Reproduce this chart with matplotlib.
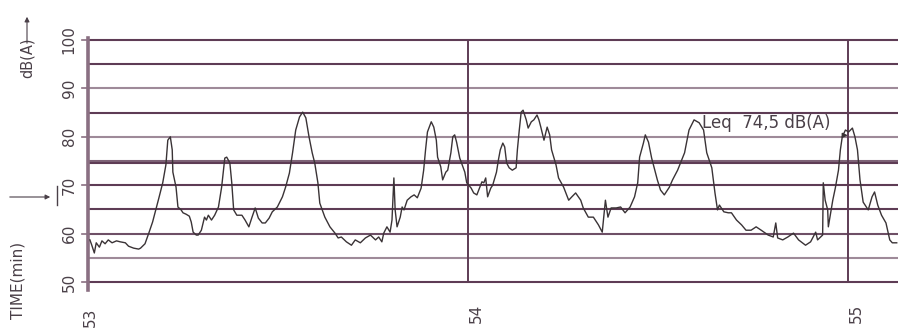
import matplotlib
matplotlib.use("Agg")
import matplotlib.pyplot as plt
import numpy as np

# ---- data: seconds after 53:00 and sound level dB(A) ----
time_s = [0.3, 0.6, 1.0, 1.3, 1.8, 2.2, 2.7, 3.2, 3.8, 4.5, 5.1, 5.9, 6.4, 7.2, 8.0, 8.3, 9.0,
          9.6, 10.2, 10.7, 11.2, 11.8, 12.3, 12.6, 13.0, 13.3, 13.4, 13.9, 14.2, 14.7, 15.0, 15.5,
          16.0, 16.3, 16.6, 17.1, 17.4, 17.9, 18.4, 18.7, 19.0, 19.5, 20.0, 20.6, 21.1, 21.6, 21.9,
          22.4, 22.7, 23.0, 23.5, 24.3, 24.8, 25.4, 25.9, 26.4, 26.9, 27.5, 28.0, 28.6, 29.1, 29.9,
          30.7, 31.2, 31.8, 32.3, 32.8, 33.4, 33.9, 34.4, 34.9, 35.4, 35.8, 36.3, 36.6, 37.4, 38.2,
          39.0, 39.5, 40.0, 40.8, 41.6, 42.2, 43.0, 43.8, 44.6, 45.4, 45.9, 46.4, 46.7, 47.2, 47.7,
          48.0, 48.3, 48.5, 48.8, 49.3, 49.6, 49.9, 50.4, 51.0, 51.5, 52.0, 52.6, 53.0, 53.3, 53.6,
          54.2, 54.6, 55.0, 55.2, 55.7, 56.0, 56.5, 56.8, 57.3, 57.6, 57.9, 58.2, 58.7, 59.2, 59.5,
          59.8, 60.5, 60.9, 61.4, 61.7, 62.2, 62.5, 62.8, 63.1, 63.6, 63.9, 64.5, 64.8, 65.1, 65.5,
          65.8, 66.1, 66.5, 67.0, 67.6, 67.8, 68.1, 68.4, 68.7, 69.2, 69.5, 70.0, 70.4, 70.9, 71.2,
          71.5, 72.0, 72.5, 72.9, 73.2, 73.9, 74.3, 75.1, 75.9, 76.4, 77.0, 77.8, 78.2, 79.0, 79.8,
          80.6, 81.2, 81.7, 82.1, 82.6, 83.4, 84.1, 84.8, 85.6, 86.3, 86.8, 87.1, 87.7, 88.0, 88.5,
          89.0, 89.4, 89.9, 90.4, 91.0, 91.8, 92.3, 93.1, 94.2, 94.9, 95.7, 96.5, 97.2, 97.7, 98.5,
          99.0, 99.4, 99.7, 100.4, 101.1, 101.6, 102.4, 103.2, 103.9, 104.7, 105.5, 106.3, 107.4,
          108.2, 108.6, 108.9, 109.7, 110.5, 111.4, 112.2, 113.3, 114.1, 114.9, 115.2, 116.0, 116.1,
          116.4, 116.8, 116.9, 117.6, 118.0, 118.5, 118.8, 119.1, 119.6, 120.1, 120.7, 121.1, 121.5,
          121.9, 122.4, 123.2, 123.8, 124.2, 124.7, 125.3, 126.0, 126.6, 127.0, 127.7]

level_db = [58.7, 57.6, 56.0, 58.1, 57.2, 58.5, 57.9, 58.7, 58.1, 58.5, 58.3, 58.1, 57.4, 57.0,
            56.8, 57.0, 57.9, 60.1, 62.4, 64.9, 67.4, 70.5, 74.2, 79.3, 80.0, 77.3, 72.7, 69.6,
            65.5, 64.9, 64.3, 64.0, 63.6, 62.4, 60.3, 59.7, 59.7, 60.7, 63.4, 62.8, 63.8, 62.8,
            63.8, 65.5, 69.6, 75.6, 75.8, 74.6, 70.5, 64.9, 63.8, 63.8, 62.8, 61.4, 63.4, 65.3,
            63.2, 62.2, 62.2, 63.2, 64.5, 65.5, 67.6, 69.6, 72.5, 76.7, 81.4, 84.1, 85.1, 83.9,
            80.0, 76.7, 74.6, 70.5, 66.3, 63.4, 61.4, 60.1, 59.1, 59.3, 58.3, 57.6, 58.7, 58.1,
            59.1, 59.7, 58.7, 59.3, 58.3, 60.1, 61.4, 60.3, 62.8, 71.5, 64.9, 61.4, 63.4, 65.5,
            64.9, 66.9, 67.6, 68.0, 67.4, 69.4, 73.1, 77.3, 81.0, 83.1, 82.0, 79.3, 75.8, 73.8,
            71.1, 72.7, 73.1, 76.7, 80.0, 80.4, 78.9, 75.6, 73.8, 72.7, 70.5, 69.4, 68.4, 68.0,
            69.0, 70.7, 70.5, 71.5, 67.6, 69.4, 70.0, 72.7, 75.2, 77.3, 78.7, 77.9, 74.6, 73.6,
            73.1, 73.6, 77.3, 81.4, 85.1, 85.5, 83.5, 81.8, 83.1, 83.5, 84.5, 83.5, 82.0, 79.3,
            82.0, 80.4, 77.3, 74.2, 71.5, 69.6, 66.9, 67.6, 68.4, 66.9, 65.3, 63.4, 63.4, 61.8,
            60.3, 66.9, 63.4, 65.3, 65.3, 65.5, 64.3, 65.5, 67.6, 70.5, 75.8, 78.7, 80.4, 78.9,
            75.6, 73.6, 71.1, 69.0, 68.0, 69.6, 71.1, 73.1, 76.7, 81.4, 83.5, 82.9, 81.4, 76.7,
            73.6, 68.4, 64.9, 65.9, 64.5, 64.3, 64.3, 62.8, 61.8, 60.7, 60.7, 61.4, 60.7, 59.7,
            59.3, 62.2, 59.1, 58.7, 59.3, 60.1, 58.7, 57.6, 58.3, 60.3, 58.7, 59.7, 70.5, 66.9,
            64.9, 61.4, 66.9, 69.4, 73.1, 77.3, 80.0, 81.4, 81.0, 81.8, 80.0, 77.3, 71.1, 66.5,
            64.9, 67.6, 68.6, 65.9, 63.8, 62.2, 58.7, 58.1, 58.1]

grid_levels = [100, 95, 90, 85, 80, 75, 74.5, 70, 65, 60, 55, 50]
grid_alpha = [1.0, 1.0, 0.6, 1.0, 0.6, 0.8, 1.0, 1.0, 1.0, 0.9, 0.6, 1.0]
ytick_vals = [50, 60, 70, 80, 90, 100]
ytick_labels = ["50", "60", "70", "80", "90", "100"]
minute_marks = [0, 60, 120]
minute_labels = ["53", "54", "55"]
leq_text = "Leq  74,5 dB(A)"

# ---- figure ----
W, H = 898, 329
fig = plt.figure(figsize=(W / 100, H / 100), dpi=100)
fig.patch.set_facecolor("white")
ax = fig.add_axes([88 / W, 39 / H, 810 / W, 252 / H])
ax.set_xlim(0, 127.9)
ax.set_ylim(48.35, 100.41)
ax.axis("off")

line_col = "#5e3c55"
trace_col = "#3a3336"
text_col = "#4a4048"

for lv, a in zip(grid_levels, grid_alpha):
    ax.plot([0, 127.9], [lv, lv], color=line_col, lw=1.5, alpha=a, solid_capstyle="butt")

for m in minute_marks[1:]:
    ax.plot([m, m], [50.3, 100], color=line_col, lw=1.4)

# left axis
ax.plot([0, 0], [48.35, 100.41], color="#8a6f82", lw=2.6, clip_on=False)
for v, lab in zip(ytick_vals, ytick_labels):
    ax.plot([-0.9, 0], [v, v], color="#8a6f82", lw=1.2, clip_on=False)
    ax.text(-3.0, v, lab, rotation=90, ha="center", va="center", fontsize=11,
            color=text_col, family=["Liberation Sans Narrow", "DejaVu Sans"])

for m, lab, dy in zip(minute_marks, minute_labels, [-5.6, -4.8, -4.8]):
    ax.text(m + (0.3 if m == 0 else 1.4), 48.35 + dy, lab, rotation=90, ha="center",
            va="center", fontsize=11, color=text_col, clip_on=False,
            family=["Liberation Sans Narrow", "DejaVu Sans"])

# trace
ax.plot(time_s, level_db, color=trace_col, lw=1.0)

# Leq annotation
ax.text(96.9, 80.9, leq_text, fontsize=12, color=text_col, ha="left", va="bottom",
        family=["Liberation Sans Narrow", "DejaVu Sans"])
ax.annotate("", xy=(120.4, 80.3), xytext=(118.8, 80.3),
            arrowprops=dict(arrowstyle="-|>", color=trace_col, lw=1, mutation_scale=7))

# outer axis labels
fig.text(27 / W, 1 - 58 / H, "dB(A)", rotation=90, ha="center", va="center",
         fontsize=10.5, color=text_col, family=["Liberation Sans Narrow", "DejaVu Sans"])
fig.patches.append(matplotlib.patches.FancyArrowPatch(
    (27 / W, 1 - 46 / H), (27 / W, 1 - 14 / H), transform=fig.transFigure,
    arrowstyle="-|>", mutation_scale=7, color=text_col, lw=0.8))
fig.text(18 / W, 1 - 280 / H, "TIME(min)", rotation=90, ha="center", va="center",
         fontsize=11, color=text_col, family=["Liberation Sans Narrow", "DejaVu Sans"])
fig.patches.append(matplotlib.patches.FancyArrowPatch(
    (7 / W, 1 - 197 / H), (53 / W, 1 - 197 / H), transform=fig.transFigure,
    arrowstyle="-|>", mutation_scale=7, color=text_col, lw=0.8))
fig.lines.append(matplotlib.lines.Line2D([57 / W, 57 / W], [1 - 186 / H, 1 - 205 / H],
                                         transform=fig.transFigure, color=text_col, lw=1))

fig.savefig("out.png", dpi=100, facecolor="white")
